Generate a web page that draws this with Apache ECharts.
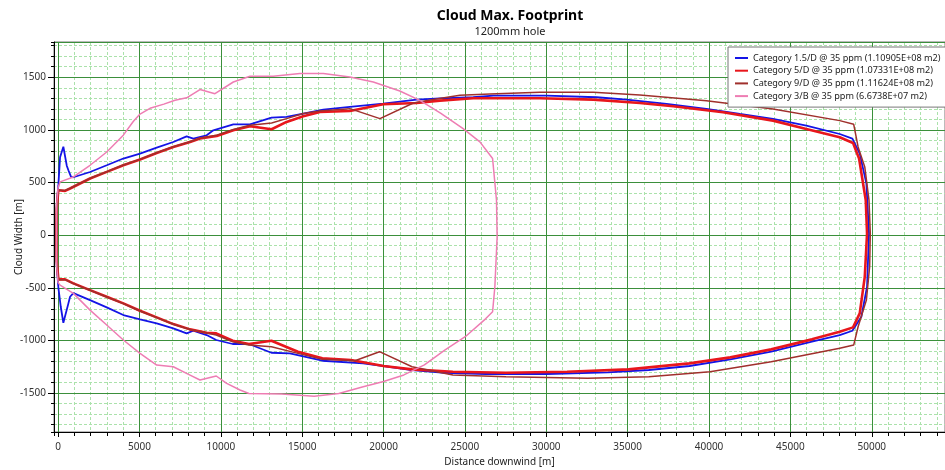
<!DOCTYPE html>
<html>
<head>
<meta charset="utf-8">
<script src="https://cdn.jsdelivr.net/npm/echarts@6/dist/echarts.min.js"></script>
<style>html,body{margin:0;padding:0;background:#fff}#c{width:945px;height:470px}</style>
</head>
<body>
<div id="c"></div>
<script>
var FONT = "'Noto Sans', 'Open Sans', sans-serif";
var seriesNames = [
  'Category 1.5/D @ 35 ppm (1.10905E+08 m2)',
  'Category 5/D @ 35 ppm (1.07331E+08 m2)',
  'Category 9/D @ 35 ppm (1.11624E+08 m2)',
  'Category 3/B @ 35 ppm (6.6738E+07 m2)'
];
// [distance downwind (m), cloud width (m)] contour points
var cat15D = [[-100,0],[-80,300],[20,480],[123,740],[325,840],[535,660],[635,617],[700,600],[800,553],[940,550],[1965,600],[2990,664],[4010,728],[5036,775],[6060,832],[7080,885],[7900,939],[8310,917],[9130,949],[9540,996],[10770,1053],[11790,1053],[13120,1117],[14040,1123],[15070,1155],[16300,1193],[17930,1218],[19980,1250],[22030,1288],[23460,1300],[25510,1310],[26740,1326],[30020,1326],[33090,1310],[34930,1288],[37390,1247],[39840,1199],[41890,1151],[43930,1104],[45980,1041],[48030,961],[48810,917],
  [49260,775],[49670,490],[49830,16],[49710,-490],[49360,-775],[48810,-908],
  [48030,-949],[46320,-1012],[43820,-1107],[41310,-1180],[38800,-1243],[36300,-1281],[33790,-1303],[30030,-1319],[26270,-1319],[23760,-1307],[21750,-1281],[20000,-1243],[18750,-1218],[16240,-1193],[14240,-1123],[13110,-1117],[11730,-1034],[10730,-1034],[9720,-996],[9130,-949],[8310,-908],[7900,-933],[7080,-885],[6060,-838],[5036,-800],[4010,-759],[2990,-686],[1965,-617],[940,-550],[840,-547],[737,-585],[635,-648],[325,-832],[165,-680],[20,-500],[-80,-300],[-100,0]];
var cat5D = [[-100,0],[-80,250],[0,400],[20,427],[430,420],[737,443],[1965,538],[2990,601],[4010,664],[5036,718],[6060,781],[7080,838],[8110,886],[8720,918],[9750,943],[10770,996],[11790,1034],[13120,1006],[14040,1076],[15070,1129],[16090,1170],[17930,1180],[19980,1243],[22030,1256],[23460,1278],[25510,1300],[29600,1300],[32880,1288],[35750,1256],[37800,1224],[40860,1167],[43930,1088],[45980,1009],[48030,930],[48850,876],
  [49220,728],[49630,332],[49710,16],[49570,-396],[49260,-743],[48850,-876],
  [48030,-918],[46320,-990],[43820,-1085],[41310,-1161],[38800,-1218],[35050,-1275],[31280,-1297],[27520,-1307],[24260,-1297],[21750,-1275],[20000,-1243],[18000,-1186],[16240,-1170],[14740,-1107],[13110,-1003],[11730,-1034],[10730,-1003],[9720,-933],[9130,-927],[8110,-895],[7080,-845],[6060,-781],[5036,-718],[4010,-648],[2990,-585],[1965,-522],[940,-458],[430,-420],[20,-420],[-80,-250],[-100,0]];
var cat9D = [[-100,0],[-80,250],[0,400],[20,430],[430,425],[737,446],[1965,540],[2990,603],[4010,666],[5036,720],[6060,783],[7080,840],[8110,888],[8720,920],[9750,950],[10770,1003],[11790,1044],[13120,1066],[14040,1107],[15070,1155],[16090,1180],[17930,1202],[19780,1107],[21830,1256],[23050,1288],[24690,1329],[26530,1341],[29600,1357],[32880,1357],[35750,1332],[39840,1278],[43930,1199],[48030,1088],[48890,1053],
  [49160,838],[49570,648],[49830,332],[49910,16],[49870,-300],[49670,-617],[49160,-870],[48890,-1044],
  [48030,-1075],[43820,-1202],[40060,-1297],[36300,-1344],[32540,-1360],[27520,-1344],[24260,-1329],[21750,-1250],[19750,-1107],[18240,-1193],[16240,-1180],[14740,-1123],[13110,-1060],[11730,-1044],[10730,-1012],[9720,-949],[9130,-930],[8110,-897],[7080,-847],[6060,-783],[5036,-720],[4010,-650],[2990,-587],[1965,-524],[940,-460],[430,-423],[20,-423],[-80,-250],[-100,0]];
var cat3B = [[-100,0],[-80,300],[0,450],[123,506],[940,553],[1965,664],[2990,790],[4010,950],[4620,1080],[5036,1150],[5650,1205],[6500,1245],[7186,1281],[7900,1305],[8720,1383],[9640,1344],[10770,1455],[11790,1509],[13220,1509],[14860,1535],[16300,1535],[17930,1503],[19370,1455],[21000,1370],[22230,1281],[23500,1160],[24890,1012],[25920,886],[26700,728],
  [26940,332],[26980,-16],[26840,-490],[26700,-728],
  [26270,-795],[25020,-965],[23760,-1092],[22510,-1233],[21250,-1328],[20000,-1391],[18750,-1440],[17250,-1504],[15740,-1530],[13730,-1510],[11730,-1504],[11180,-1471],[10360,-1408],[9720,-1338],[8720,-1376],[8110,-1329],[7080,-1250],[6060,-1234],[5036,-1123],[4010,-996],[2990,-854],[1965,-712],[940,-553],[123,-475],[0,-450],[-80,-300],[-100,0]];
var seriesData = [cat15D, cat5D, cat9D, cat3B];
var seriesColors = ['#1414e6', '#e8161c', '#a0302c', '#ee7db3'];
var seriesWidths = [1.8, 2.6, 1.5, 1.5];

var X_MIN = -250, X_MAX = 54500, Y_MIN = -1870, Y_MAX = 1835;
var GRID = {left: 54, right: 0, top: 42, bottom: 38};
var gw = 945 - GRID.left - GRID.right, gh = 470 - GRID.top - GRID.bottom;

var majorLine = {show: true, lineStyle: {color: '#3b8f3b', width: 1}};
var minorLine = {show: true, lineStyle: {color: '#abe2ab', width: 1, type: [3, 2]}};
var labelStyle = {fontSize: 10, color: '#333', fontFamily: FONT, formatter: function (v) { return String(v); }};

var chart = echarts.init(document.getElementById('c'), null, {renderer: 'canvas'});
chart.setOption({
  animation: false,
  backgroundColor: '#fff',
  textStyle: {fontFamily: FONT},
  title: {
    text: 'Cloud Max. Footprint', subtext: '1200mm hole',
    left: 505, textAlign: 'center', top: 4, itemGap: 3,
    textStyle: {fontSize: 14, fontWeight: 'bold', color: '#000', fontFamily: FONT},
    subtextStyle: {fontSize: 11, color: '#222', fontFamily: FONT}
  },
  legend: {
    orient: 'vertical', left: 728, top: 47,
    padding: [6, 30, 6, 7], itemGap: 2.7, itemWidth: 13, itemHeight: 2, icon: 'rect',
    backgroundColor: '#fff', borderColor: '#777', borderWidth: 1,
    textStyle: {fontSize: 9.1, color: '#222', fontFamily: FONT, lineHeight: 10},
    data: seriesNames
  },
  grid: {left: GRID.left, right: GRID.right, top: GRID.top, bottom: GRID.bottom, outerBoundsMode: 'none', containLabel: false, show: true, borderColor: '#777', borderWidth: 1, backgroundColor: 'transparent'},
  xAxis: [
    {type: 'value', min: X_MIN, max: X_MAX, splitNumber: 11, z: 1,
     name: 'Distance downwind [m]', nameLocation: 'middle', nameGap: 25, nameMoveOverlap: false,
     nameTextStyle: {fontSize: 10, color: '#222', fontFamily: FONT},
     axisLine: {show: true, onZero: false, lineStyle: {color: '#000'}},
     axisTick: {show: true, length: 5, lineStyle: {color: '#000'}},
     axisLabel: Object.assign({showMinLabel: false, showMaxLabel: false, margin: 10}, labelStyle),
     splitLine: majorLine},
    {type: 'value', min: X_MIN, max: X_MAX, splitNumber: 55, z: 0, position: 'top', offset: -gh,
     axisLine: {show: false, onZero: false},
     axisTick: {show: true, inside: true, length: 4, lineStyle: {color: '#000'}},
     axisLabel: {show: false}, splitLine: minorLine}
  ],
  yAxis: [
    {type: 'value', min: Y_MIN, max: Y_MAX, splitNumber: 7, z: 1,
     name: 'Cloud Width [m]', nameLocation: 'middle', nameGap: 30, nameMoveOverlap: false,
     nameTextStyle: {fontSize: 10, color: '#222', fontFamily: FONT},
     axisLine: {show: true, onZero: false, lineStyle: {color: '#000'}},
     axisTick: {show: true, length: 6, lineStyle: {color: '#000'}},
     axisLabel: Object.assign({showMinLabel: false, showMaxLabel: false, margin: 8}, labelStyle),
     splitLine: majorLine},
    {type: 'value', min: Y_MIN, max: Y_MAX, splitNumber: 37, z: 0, position: 'right', offset: -gw,
     axisLine: {show: false, onZero: false},
     axisTick: {show: true, inside: true, length: 3, lineStyle: {color: '#000'}},
     axisLabel: {show: false}, splitLine: minorLine}
  ],
  series: seriesNames.map(function (n, i) {
    return {
      name: n, type: 'line', data: seriesData[i], xAxisIndex: 0, yAxisIndex: 0,
      symbol: 'none', showSymbol: false, smooth: false, z: 3,
      lineStyle: {color: seriesColors[i], width: seriesWidths[i]},
      itemStyle: {color: seriesColors[i]}
    };
  })
});
</script>
</body>
</html>
